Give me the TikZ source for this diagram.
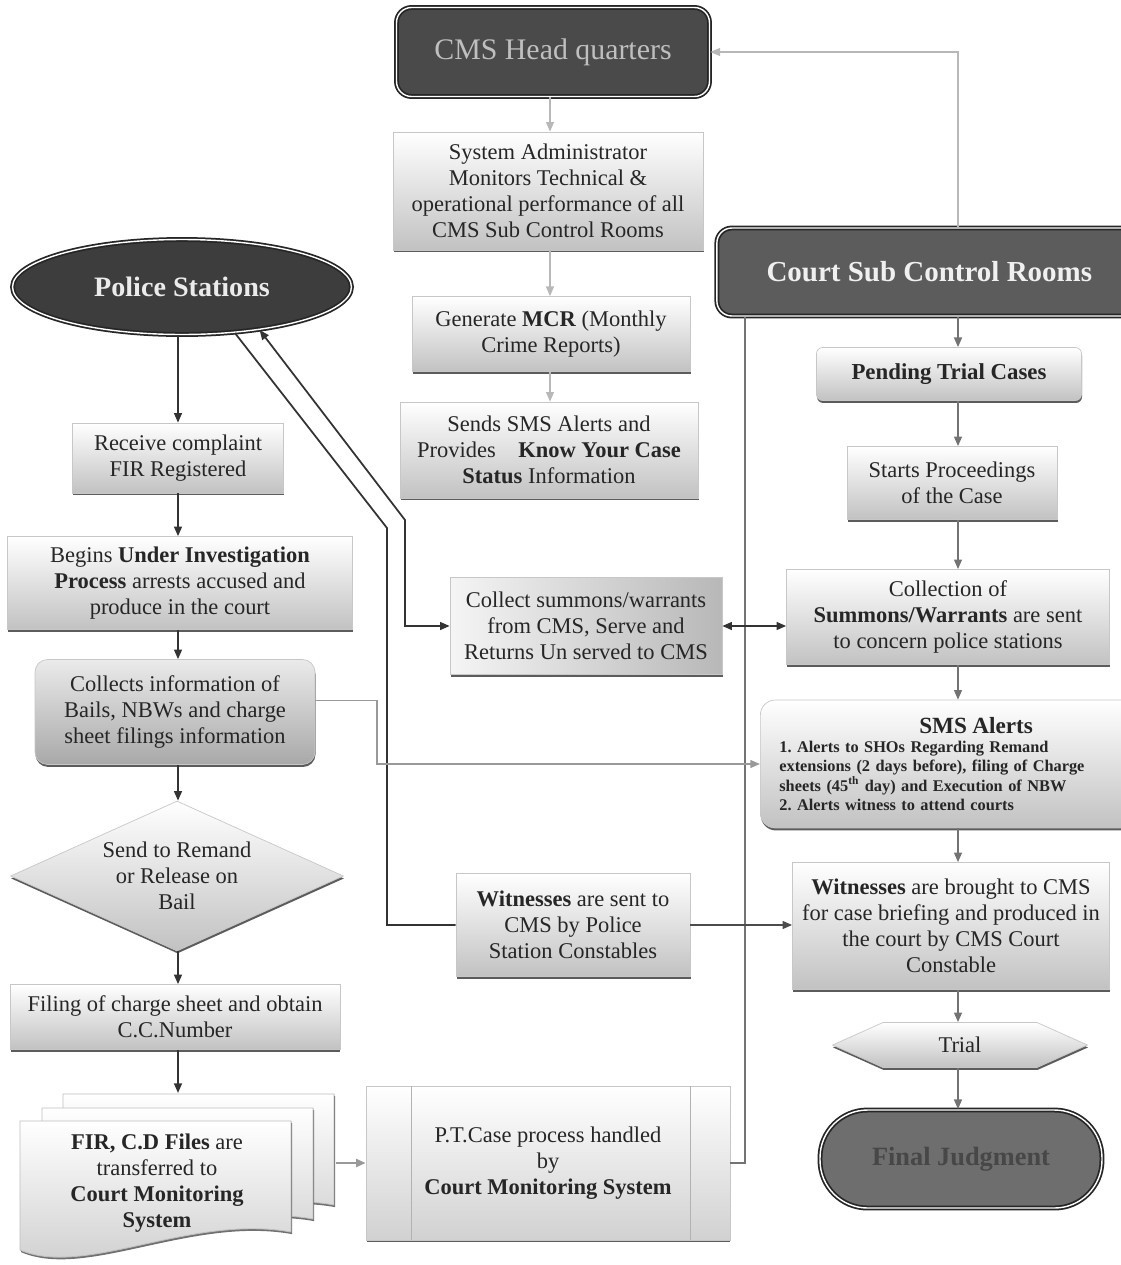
\documentclass[tikz,border=0pt]{standalone}
\usepackage{fontspec}
\setmainfont{Liberation Serif}
\usetikzlibrary{arrows.meta,shapes.geometric,shapes.symbols,shadows}

\newcommand\bodyfont{\fontsize{12.8}{14.8}\selectfont}

\tikzset{
  box/.style={draw=black!22, top color=white, bottom color=black!24,
    text=black!85, align=center, inner sep=1pt, font=\bodyfont,
    drop shadow={shadow xshift=0.3pt, shadow yshift=-1.4pt, fill=black!75, opacity=0.85}},
  headbox/.style={draw=black!85, line width=1pt, double=white, double distance=0.8pt,
    align=center},
  sheet/.style={draw=black!25, line width=0.5pt, top color=white, bottom color=black!20,
    drop shadow={shadow xshift=0.6pt, shadow yshift=-1.2pt, fill=black!70, opacity=0.8}},
  headtip/.style={-{Triangle[length=5.5pt,width=4.5pt]}},
  twoway/.style={{Triangle[length=5.5pt,width=4.5pt]}-{Triangle[length=5.5pt,width=4.5pt]}},
  dark/.style={draw=black!80, line width=1pt, headtip},
  mid/.style={draw=black!55, line width=0.9pt, headtip},
  lite/.style={draw=black!28, line width=0.8pt, headtip},
}

\begin{document}
\begin{tikzpicture}[x=0.02cm, y=-0.02cm]
  \useasboundingbox (0,0) rectangle (1121,1265);
  \clip (0,0) rectangle (1121,1265);
  \coordinate (lx) at (178,0);
  \coordinate (mx) at (550,0);
  \coordinate (rx) at (958,0);
  \coordinate (vx) at (745,0);

  % head quarters column
  \node[headbox, rounded corners=0.3cm, fill=black!71, text=black!25,
    minimum width=6.26cm, minimum height=1.78cm,
    font=\fontsize{17}{20}\selectfont] (hq) at (553,52) {CMS Head quarters};
  \node[box, minimum width=6.2cm, minimum height=2.36cm] (admin) at (548,191)
    {System Administrator\\ Monitors Technical \&\\ operational performance of all\\ CMS Sub Control Rooms};
  \node[box, minimum width=5.56cm, minimum height=1.5cm] (mcr) at (551,334)
    {Generate \textbf{MCR} (Monthly\\ Crime Reports)};
  \node[box, minimum width=5.96cm, minimum height=1.92cm] (sms) at (549,450)
    {Sends SMS Alerts and\\ Provides\quad\textbf{Know Your Case}\\ \textbf{Status} Information};

  % court column
  \node[headbox, rounded corners=0.3cm, fill=black!64, text=black!6, anchor=west,
    minimum width=8.5cm, minimum height=1.76cm,
    font=\bfseries\fontsize{16.5}{19}\selectfont] (court) at (716,272) {Court Sub Control Rooms};
  \node[box, rounded corners=0.12cm, minimum width=5.3cm, minimum height=1.06cm,
    font=\bfseries\fontsize{13}{15}\selectfont] (pending) at (949,374) {Pending Trial Cases};
  \node[box, minimum width=4.2cm, minimum height=1.46cm] (starts) at (952,483)
    {Starts Proceedings\\ of the Case};
  \node[box, minimum width=6.46cm, minimum height=1.9cm] (collection) at (948,617)
    {Collection of\\ \textbf{Summons/Warrants} are sent\\ to concern police stations};
  \node[box, rounded corners=0.3cm, anchor=west, minimum width=7.7cm, minimum height=2.56cm,
    text width=7.0cm, align=left, inner xsep=0.38cm,
    font=\bfseries\fontsize{9.3}{10.9}\selectfont] (alerts) at (760,764)
    {{\fontsize{13.2}{15}\selectfont\hspace*{2.8cm}SMS Alerts}\\
     1.\ Alerts to SHOs Regarding Remand\\
     extensions (2 days before), filing of Charge\\
     sheets (45\textsuperscript{th} day) and Execution of NBW\\
     2.\ Alerts witness to attend courts};
  \node[box, minimum width=6.34cm, minimum height=2.54cm] (brought) at (951,926)
    {\textbf{Witnesses} are brought to CMS\\ for case briefing and produced in\\ the court by CMS Court\\ Constable};
  \node[box, signal, signal to=west and east, signal pointer angle=48,
    minimum width=5.1cm, minimum height=0.9cm] (trial) at (960,1045) {Trial};
  \node[headbox, rounded corners=0.95cm, fill=black!57, text=black!72,
    minimum width=5.64cm, minimum height=1.96cm,
    font=\bfseries\fontsize{15}{18}\selectfont] (judgment) at (961,1159) {Final Judgment};

  % police column
  \node[headbox, ellipse, fill=black!76, text=black!8,
    minimum width=6.78cm, minimum height=1.9cm,
    font=\bfseries\fontsize{16}{19}\selectfont] (police) at (182,287) {Police Stations};
  \node[box, minimum width=4.22cm, minimum height=1.4cm] (receive) at (178,458)
    {Receive complaint\\ FIR Registered};
  \node[box, minimum width=6.9cm, minimum height=1.86cm] (begins) at (180,583)
    {Begins \textbf{Under Investigation}\\ \textbf{Process} arrests accused and\\ produce in the court};
  \node[box, rounded corners=0.25cm, top color=black!8, bottom color=black!34,
    minimum width=5.6cm, minimum height=2.1cm] (collects) at (175,712)
    {Collects information of\\ Bails, NBWs and charge\\ sheet filings information};
  \node[box, diamond, aspect=2.19, inner sep=0pt, minimum width=6.66cm, minimum height=3.0cm]
    (remand) at (177,876) {Send to Remand\\ or Release on\\ Bail};
  \node[box, minimum width=6.6cm, minimum height=1.3cm] (filing) at (175,1017)
    {Filing of charge sheet and obtain\\ C.C.Number};

  % case files
  \foreach \dx/\dy in {43/-27, 22/-13, 0/0}
    \filldraw[sheet, shift={(\dx,\dy)}] (20,1121) -- (291,1121) -- (291,1232)
      .. controls (190,1214) and (85,1278) .. (20,1250) -- cycle;
  \node[align=center, font=\bodyfont, text=black!85] (files) at (157,1183)
    {\textbf{FIR, C.D Files} are\\ transferred to\\ \textbf{Court Monitoring}\\ \textbf{System}};
  \coordinate (filesTop) at (178,1093);
  \coordinate (filesRight) at (336,1163);

  % middle column
  \node[box, left color=black!4, right color=black!28,
    minimum width=5.44cm, minimum height=1.94cm] (summons) at (586,626)
    {Collect summons/warrants\\ from CMS, Serve and\\ Returns Un served to CMS};
  \node[box, minimum width=4.68cm, minimum height=2.06cm] (witness) at (573,925)
    {\textbf{Witnesses} are sent to\\ CMS by Police\\ Station Constables};
  \node[box, bottom color=black!18, minimum width=7.28cm, minimum height=3.08cm] (ptcase) at (548,1163)
    {P.T.Case process handled\\ by\\ \textbf{Court Monitoring System}};
  \draw[black!30] ([xshift=0.92cm]ptcase.north west) -- ([xshift=0.92cm]ptcase.south west)
    ([xshift=-0.8cm]ptcase.north east) -- ([xshift=-0.8cm]ptcase.south east);

  \coordinate (bendA) at (387,528);
  \coordinate (bendB) at (405,520);
  \coordinate (bendC) at (377,0);

  % connectors
  \draw[lite] (hq.south -| mx) -- (admin.north -| mx);
  \draw[lite] (admin.south -| mx) -- (mcr.north -| mx);
  \draw[lite] (mcr.south -| mx) -- (sms.north -| mx);
  \draw[lite] (court.north -| rx) |- (hq.east);

  \draw[mid] (court.south -| rx) -- (pending.north -| rx);
  \draw[mid] (pending.south -| rx) -- (starts.north -| rx);
  \draw[mid] (starts.south -| rx) -- (collection.north -| rx);
  \draw[mid] (collection.south -| rx) -- (alerts.north -| rx);
  \draw[mid] (alerts.south -| rx) -- (brought.north -| rx);
  \draw[mid] (brought.south -| rx) -- (trial.north -| rx);
  \draw[mid] (trial.south -| rx) -- (judgment.north -| rx);

  \draw[dark] (police.south -| lx) -- (receive.north -| lx);
  \draw[dark] (receive.south -| lx) -- (begins.north -| lx);
  \draw[dark] (begins.south -| lx) -- (collects.north -| lx);
  \draw[dark] (collects.south -| lx) -- (remand.north -| lx);
  \draw[dark] (remand.south -| lx) -- (filing.north -| lx);
  \draw[dark] (filing.south -| lx) -- (filesTop);

  \draw[lite, draw=black!40, line width=1.5pt] (filesRight) -- (ptcase.west);
  \draw[mid, -] (ptcase.east) -| (vx |- court.south);

  \draw[dark, -] (police.-41) -- (bendA) |- (witness.west);
  \draw[dark, twoway] (police.-29) -- (bendB) |- (summons.west);
  \draw[dark, twoway] (summons.east) -- (summons.east -| collection.west);
  \draw[lite, draw=black!40] ([yshift=0.23cm]collects.east) -| (bendC |- alerts.west) -- (alerts.west);
  \draw[dark, draw=black!70] (witness.east) -- (witness.east -| brought.west);
\end{tikzpicture}
\end{document}
